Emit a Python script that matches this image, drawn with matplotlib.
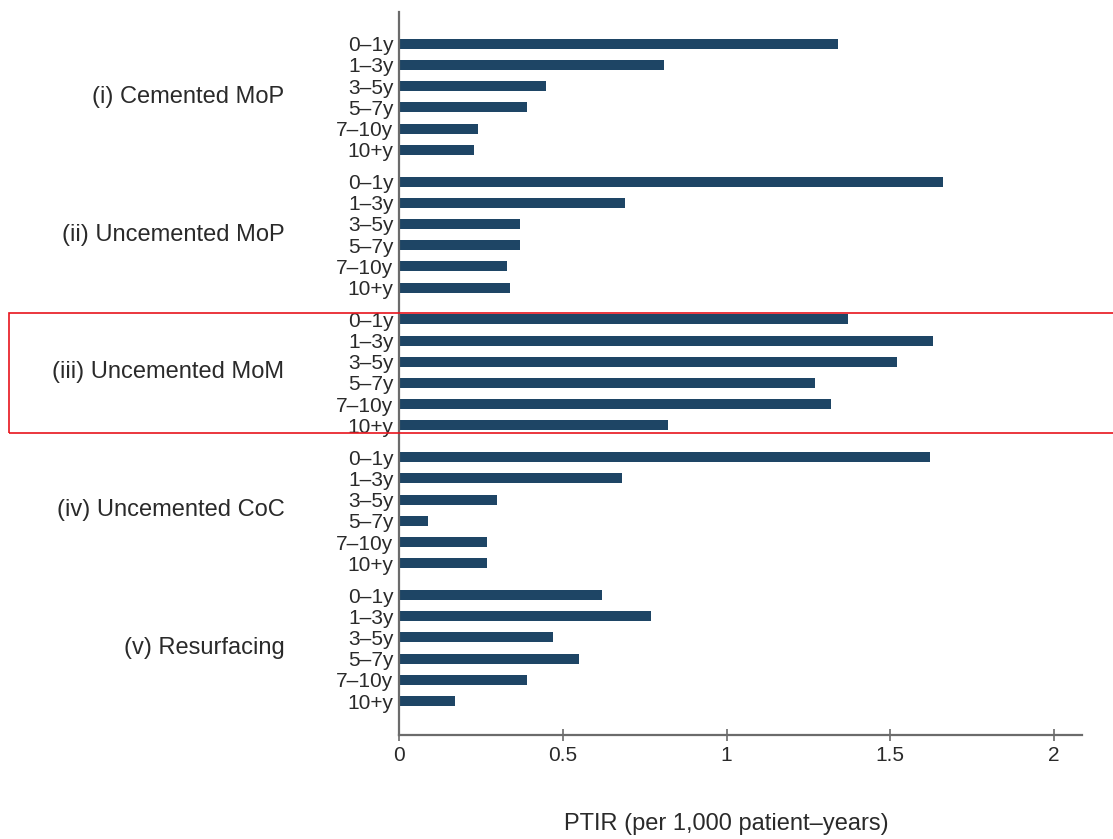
import numpy as np
import matplotlib.pyplot as plt
from matplotlib.patches import Rectangle

plt.rcParams['font.family'] = ['Liberation Sans', 'DejaVu Sans']

groups = ['(i) Cemented MoP', '(ii) Uncemented MoP', '(iii) Uncemented MoM',
          '(iv) Uncemented CoC', '(v) Resurfacing']
periods = ['0\u20131y', '1\u20133y', '3\u20135y', '5\u20137y', '7\u201310y', '10+y']

cemented_mop = [1.34, 0.81, 0.45, 0.39, 0.24, 0.23]
uncemented_mop = [1.66, 0.69, 0.37, 0.37, 0.33, 0.34]
uncemented_mom = [1.37, 1.63, 1.52, 1.27, 1.32, 0.82]
uncemented_coc = [1.62, 0.68, 0.30, 0.09, 0.27, 0.27]
resurfacing = [0.62, 0.77, 0.47, 0.55, 0.39, 0.17]

series = [cemented_mop, uncemented_mop, uncemented_mom, uncemented_coc, resurfacing]

bar_color = '#1e4565'
axis_color = '#6b6b6b'
text_color = '#2a2a2a'

fig = plt.figure(figsize=(11.13, 8.39), dpi=100)
ax = fig.add_axes([0.3585, 0.124, 0.6135, 0.8618])

group_step = 6.5
ypos, ylabels = [], []
for g, vals in enumerate(series):
    pos = g * group_step + np.arange(len(periods))
    ax.barh(pos, vals, height=0.47, color=bar_color)
    ypos.extend(pos)
    ylabels.extend(periods)
    ax.text(-0.35, pos.mean(), groups[g], ha='right', va='center',
            fontsize=17, color=text_color)

ax.set_yticks(ypos)
ax.set_yticklabels(ylabels, fontsize=15, color=text_color)
ax.tick_params(axis='y', length=0, pad=4)
ax.set_ylim(32.6, -1.5)

ax.set_xlim(0, 2.085)
ax.set_xticks([0, 0.5, 1, 1.5, 2])
ax.set_xticklabels(['0', '0.5', '1', '1.5', '2'])
ax.tick_params(axis='x', direction='inout', length=8, width=1.2,
               color=axis_color, labelsize=15, labelcolor=text_color, pad=4)

for side in ['top', 'right']:
    ax.spines[side].set_visible(False)
for side in ['left', 'bottom']:
    ax.spines[side].set_color(axis_color)
    ax.spines[side].set_linewidth(1.6)

fig.text(0.653, 0.005, 'PTIR (per 1,000 patient\u2013years)', ha='center',
         va='bottom', fontsize=17, color=text_color)

# highlight box around the metal-on-metal group
fig.patches.append(Rectangle((9 / 1113, 1 - 433 / 839), 1.0, 120 / 839,
                             transform=fig.transFigure, fill=False,
                             edgecolor='#e8141c', linewidth=1.2))

fig.savefig('out.png', dpi=100)
